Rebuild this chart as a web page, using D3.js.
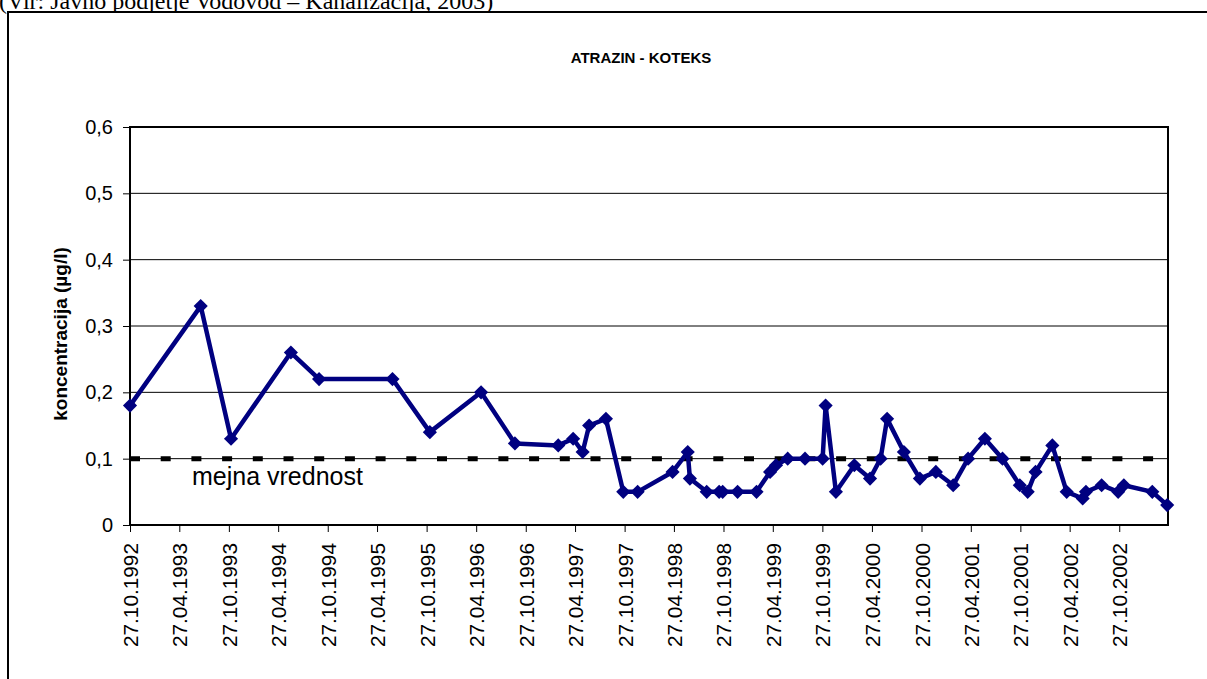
<!DOCTYPE html>
<html>
<head>
<meta charset="utf-8">
<script src="https://cdn.jsdelivr.net/npm/d3@7"></script>
<style>
  html, body { margin: 0; padding: 0; background: #fff; overflow: hidden; }
  svg { display: block; }
</style>
</head>
<body>
<div id="chart"></div>
<script>
// sample dates (dd.mm.yyyy) and atrazine concentration in µg/l
const sampleDates = [
  '27.10.1992', '15.07.1993', '04.11.1993', '13.06.1994', '25.09.1994', '23.06.1995',
  '08.11.1995', '15.05.1996', '17.09.1996', '24.02.1997', '20.04.1997', '25.05.1997',
  '18.06.1997', '19.08.1997', '22.10.1997', '14.12.1997', '22.04.1998', '17.06.1998',
  '25.06.1998', '26.08.1998', '11.10.1998', '24.10.1998', '18.12.1998', '26.02.1999',
  '17.04.1999', '09.05.1999', '21.06.1999', '24.08.1999', '28.10.1999', '08.11.1999',
  '16.12.1999', '22.02.2000', '20.04.2000', '29.05.2000', '22.06.2000', '23.08.2000',
  '21.10.2000', '19.12.2000', '21.02.2001', '17.04.2001', '18.06.2001', '22.08.2001',
  '25.10.2001', '23.11.2001', '22.12.2001', '22.02.2002', '16.04.2002', '14.06.2002',
  '26.06.2002', '23.08.2002', '23.10.2002', '13.11.2002', '26.02.2003', '22.04.2003'
];
const atrazin = [
  0.18, 0.33, 0.13, 0.26, 0.22, 0.22,
  0.14, 0.20, 0.123, 0.12, 0.13, 0.11,
  0.15, 0.16, 0.05, 0.05, 0.08, 0.11,
  0.07, 0.05, 0.05, 0.05, 0.05, 0.05,
  0.08, 0.09, 0.10, 0.10, 0.10, 0.18,
  0.05, 0.09, 0.07, 0.10, 0.16, 0.11,
  0.07, 0.08, 0.06, 0.10, 0.13, 0.10,
  0.06, 0.05, 0.08, 0.12, 0.05, 0.04,
  0.05, 0.06, 0.05, 0.06, 0.05, 0.03
];
const mejnaVrednost = 0.1;

const xTickLabels = [
  '27.10.1992', '27.04.1993', '27.10.1993', '27.04.1994', '27.10.1994', '27.04.1995',
  '27.10.1995', '27.04.1996', '27.10.1996', '27.04.1997', '27.10.1997', '27.04.1998',
  '27.10.1998', '27.04.1999', '27.10.1999', '27.04.2000', '27.10.2000', '27.04.2001',
  '27.10.2001', '27.04.2002', '27.10.2002'
];
const yTicks = [0, 0.1, 0.2, 0.3, 0.4, 0.5, 0.6];

const W = 1207, H = 679;
const plot = { left: 130, right: 1168, top: 127, bottom: 525 };

const parse = d3.timeParse('%d.%m.%Y');
const points = sampleDates.map((d, i) => ({ date: parse(d), value: atrazin[i] }));
const tickDates = xTickLabels.map(parse);

const x = d3.scaleTime()
  .domain([parse('27.10.1992'), parse('25.04.2003')])
  .range([plot.left, plot.right]);
const y = d3.scaleLinear()
  .domain([0, 0.6])
  .range([plot.bottom, plot.top]);

const svg = d3.select('#chart').append('svg')
  .attr('width', W)
  .attr('height', H);

// source caption, cut at the top of the page (as in the scan)
svg.append('text')
  .attr('x', -1)
  .attr('y', 9)
  .attr('font-family', '"Liberation Serif", "Times New Roman", serif')
  .attr('font-size', '24px')
  .attr('fill', '#000')
  .text('(Vir: Javno podjetje Vodovod – Kanalizacija, 2003)');

// chart frame
svg.append('rect')
  .attr('x', 8)
  .attr('y', 12)
  .attr('width', 1260)
  .attr('height', 720)
  .attr('fill', '#fff')
  .attr('stroke', '#000')
  .attr('stroke-width', 2);

svg.append('text')
  .attr('x', 641)
  .attr('y', 63)
  .attr('text-anchor', 'middle')
  .attr('font-family', 'Arial, "Liberation Sans", sans-serif')
  .attr('font-weight', 'bold')
  .attr('font-size', '15px')
  .text('ATRAZIN - KOTEKS');

// gridlines
svg.append('g')
  .selectAll('line')
  .data(yTicks.filter(t => t > 0 && t < 0.6))
  .enter()
  .append('line')
  .attr('x1', plot.left)
  .attr('x2', plot.right)
  .attr('y1', d => y(d))
  .attr('y2', d => y(d))
  .attr('stroke', '#000')
  .attr('stroke-width', 1);

// limit value (dashed)
svg.append('line')
  .attr('x1', x.range()[0])
  .attr('x2', x.range()[1])
  .attr('y1', y(mejnaVrednost))
  .attr('y2', y(mejnaVrednost))
  .attr('stroke', '#000')
  .attr('stroke-width', 5)
  .attr('stroke-dasharray', '10,20.7');

svg.append('text')
  .attr('x', 192)
  .attr('y', 485)
  .attr('font-family', 'Arial, "Liberation Sans", sans-serif')
  .attr('font-size', '25px')
  .attr('fill', '#000')
  .text('mejna vrednost');

// y axis
const yAxis = svg.append('g')
  .attr('transform', `translate(${plot.left},0)`)
  .call(d3.axisLeft(y).tickValues(yTicks).tickSize(7).tickPadding(10)
    .tickFormat(d => d === 0 ? '0' : d3.format('.1f')(d).replace('.', ',')));
yAxis.select('.domain').remove();
yAxis.selectAll('text')
  .attr('font-family', 'Arial, "Liberation Sans", sans-serif')
  .attr('font-size', '20px')
  .attr('fill', '#000');

// x axis
const xAxis = svg.append('g')
  .attr('transform', `translate(0,${plot.bottom})`)
  .call(d3.axisBottom(x).tickValues(tickDates).tickSize(7)
    .tickFormat((d, i) => xTickLabels[i]));
xAxis.select('.domain').remove();
xAxis.selectAll('text')
  .attr('font-family', 'Arial, "Liberation Sans", sans-serif')
  .attr('font-size', '20.8px')
  .attr('fill', '#000')
  .attr('text-anchor', 'end')
  .attr('dy', null)
  .attr('dominant-baseline', 'central')
  .attr('transform', 'rotate(-90)')
  .attr('x', -18)
  .attr('y', 0);

// plot border
svg.append('rect')
  .attr('x', plot.left)
  .attr('y', plot.top)
  .attr('width', plot.right - plot.left)
  .attr('height', plot.bottom - plot.top)
  .attr('fill', 'none')
  .attr('stroke', '#000')
  .attr('stroke-width', 2);

svg.append('text')
  .attr('transform', `translate(67,334) rotate(-90)`)
  .attr('text-anchor', 'middle')
  .attr('font-family', 'Arial, "Liberation Sans", sans-serif')
  .attr('font-weight', 'bold')
  .attr('font-size', '19px')
  .text('koncentracija (µg/l)');

// series
const line = d3.line()
  .x(d => x(d.date))
  .y(d => y(d.value));

svg.append('path')
  .datum(points)
  .attr('d', line)
  .attr('fill', 'none')
  .attr('stroke', '#000080')
  .attr('stroke-width', 4.5)
  .attr('stroke-linejoin', 'round');

const diamond = d3.symbol().type(d3.symbolSquare).size(100);
svg.append('g')
  .selectAll('path')
  .data(points)
  .enter()
  .append('path')
  .attr('d', diamond)
  .attr('transform', d => `translate(${x(d.date)},${y(d.value)}) rotate(45)`)
  .attr('fill', '#000080');
</script>
</body>
</html>
